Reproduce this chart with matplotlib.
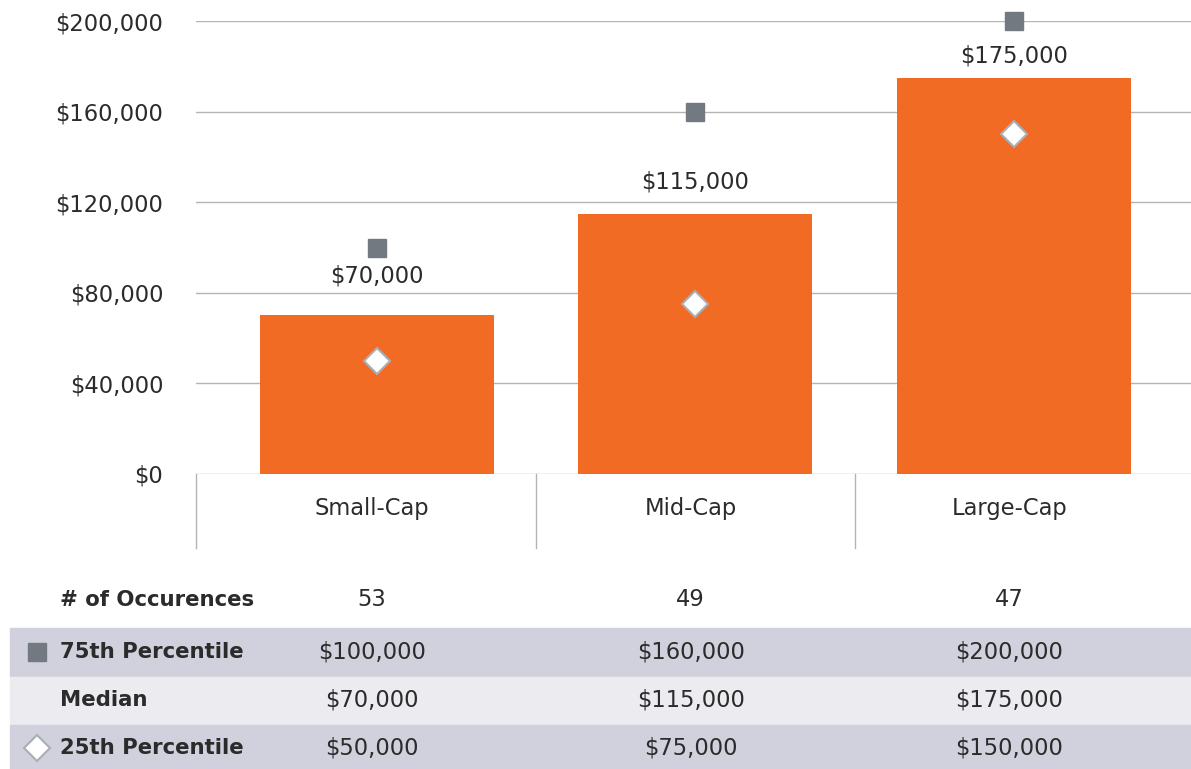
import matplotlib
matplotlib.use("Agg")
import matplotlib.pyplot as plt
import matplotlib.transforms as mtransforms
from matplotlib.patches import Rectangle
from matplotlib.lines import Line2D

# chart data
categories = ["Small-Cap", "Mid-Cap", "Large-Cap"]
medians = [70000, 115000, 175000]
pct75 = [100000, 160000, 200000]
pct25 = [50000, 75000, 150000]
occurrences = [53, 49, 47]
y_ticks = [0, 40000, 80000, 120000, 160000, 200000]

# layout: gap between each bar top and its label baseline (pixels)
LABEL_PAD = [32.5, 25, 15.5]

ORANGE = "#f26b24"
SQUARE = "#737980"
GRID = "#b4b4b4"
TEXT = "#2b2b2b"
BAND_DARK = "#d0d1dd"
BAND_LIGHT = "#ebebf0"
FS = 16.3

plt.rcParams["font.family"] = ["DejaVu Sans"]


def money(v):
    return "${:,}".format(v)


def main():
    fig = plt.figure(figsize=(11.91, 7.69), dpi=100)
    W, H = 1191.0, 769.0
    ax = fig.add_axes([196 / W, 1 - 474 / H, 1 - 196 / W, (474 - 21) / H])

    x = list(range(len(categories)))
    ax.set_xlim(-0.568, 2.556)
    ax.set_ylim(0, 200000)

    ax.bar(x, medians, width=0.735, color=ORANGE, zorder=2)
    ax.plot(x, pct75, ls="none", marker="s", ms=13, color=SQUARE,
            zorder=3, clip_on=False)
    ax.plot(x, pct25, ls="none", marker="D", ms=13.2, mfc="white",
            mec="#a9afb4", mew=1.5, zorder=3)

    for xi, m, pad in zip(x, medians, LABEL_PAD):
        ax.annotate(money(m), (xi, m), xytext=(0, pad * 0.72),
                    textcoords="offset points", ha="center", va="baseline",
                    fontsize=FS, color=TEXT)

    ax.set_yticks(y_ticks)
    ax.set_yticklabels([money(v) for v in y_ticks], fontsize=FS, color=TEXT)
    ax.tick_params(axis="y", length=0, pad=23.5)
    ax.set_xticks([])
    ax.grid(axis="y", color=GRID, lw=1, zorder=0)
    for s in ax.spines.values():
        s.set_visible(False)

    # category header box below the axis
    tr = mtransforms.blended_transform_factory(ax.transData, fig.transFigure)
    y_top = 1 - 474 / H
    y_bot = 1 - 548 / H
    seps = [-0.568] + [i + 0.5 for i in x[:-1]]
    for sx in seps:
        fig.add_artist(Line2D([sx, sx], [y_bot, y_top], transform=tr,
                              color=GRID, lw=1))
    for xi, c in zip(x, categories):
        fig.text(xi - 0.015, 1 - 508 / H, c, transform=tr, ha="center",
                 va="center", fontsize=FS, color=TEXT)

    # table rows
    bands = [(628, 676, BAND_DARK), (677, 724, BAND_LIGHT), (725, 769, BAND_DARK)]
    for top, bot, col in bands:
        fig.add_artist(Rectangle((10 / W, 1 - bot / H), 1 - 10 / W, (bot - top) / H,
                                 transform=fig.transFigure, color=col, zorder=0))

    rows = [
        ("# of Occurences", [str(v) for v in occurrences], 600),
        ("75th Percentile", [money(v) for v in pct75], 652),
        ("Median", [money(v) for v in medians], 700),
        ("25th Percentile", [money(v) for v in pct25], 748),
    ]
    for label, vals, ypix in rows:
        fy = 1 - ypix / H
        fig.text(60 / W, fy, label, ha="left", va="center", fontsize=15.3,
                 fontweight="bold", color=TEXT)
        for xi, v in zip(x, vals):
            fig.text(xi - 0.015, fy, v, transform=tr, ha="center", va="center",
                     fontsize=FS, color=TEXT)

    fig.add_artist(Line2D([37 / W], [1 - 652 / H], marker="s", ms=13,
                          color=SQUARE, ls="none", transform=fig.transFigure))
    fig.add_artist(Line2D([37 / W], [1 - 748 / H], marker="D", ms=13.2,
                          mfc="white", mec="#a9afb4", mew=1.5, ls="none",
                          transform=fig.transFigure))

    fig.savefig("out.png", dpi=100)


if __name__ == "__main__":
    main()
